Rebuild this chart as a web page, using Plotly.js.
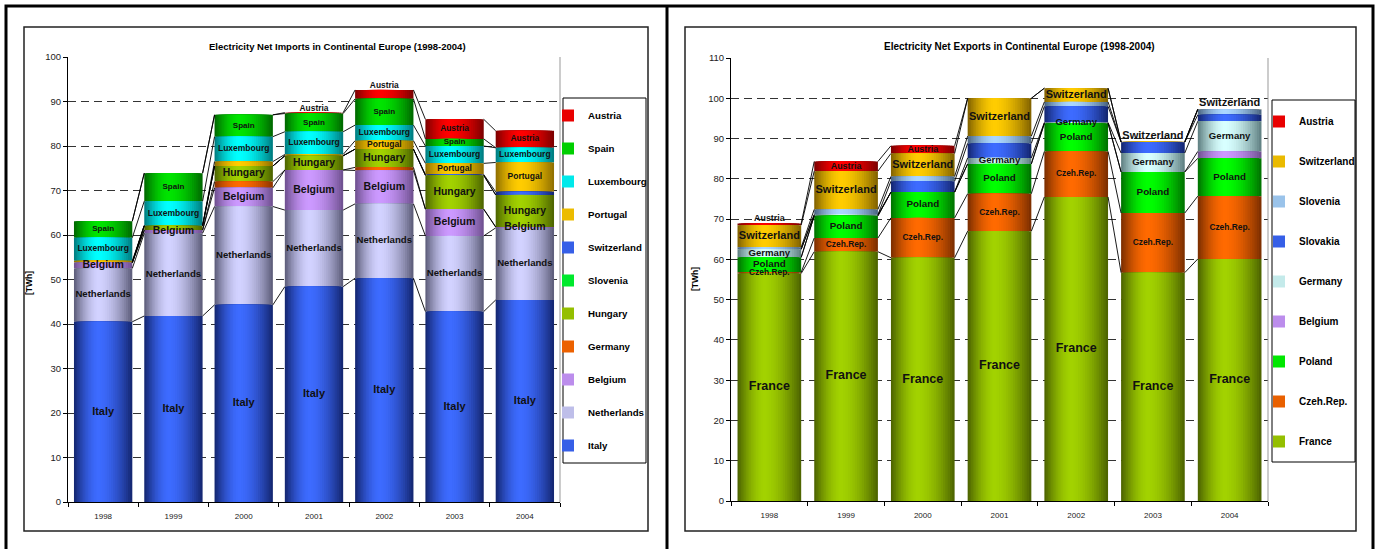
<!DOCTYPE html>
<html><head><meta charset="utf-8">
<script src="https://cdn.plot.ly/plotly-3.0.1.min.js"></script>
<style>html,body{margin:0;padding:0;background:#fff;}#chart{width:1381px;height:549px;}</style>
</head><body><div id="chart"></div>
<script>
// ---------- DATA ----------
const years = ['1998','1999','2000','2001','2002','2003','2004'];

// Net imports (TWh), stack order bottom -> top
const impItaly       = [40.5, 41.8, 44.3, 48.4, 50.3, 42.8, 45.4];
const impNetherlands = [12.0, 18.6, 22.1, 17.2, 16.7, 17.0, 16.2];
const impBelgium     = [1.3, 0.7, 4.2, 9.0, 7.5, 6.0, 0.2];
const impGermany     = [0, 0, 1.4, 0, 0.7, 0, 0];
const impHungary     = [0, 1.0, 3.5, 3.2, 4.1, 7.6, 7.2];
const impSlovenia    = [0, 0, 0, 0, 0, 0, 0];
const impSwitzerland = [0, 0, 0, 0, 0, 0.2, 0.7];
const impPortugal    = [0.4, 0, 1.0, 0.3, 1.9, 2.5, 6.6];
const impLuxembourg  = [5.2, 5.5, 5.6, 5.1, 3.5, 3.9, 3.3];
const impSpain       = [3.7, 6.3, 4.9, 4.1, 5.9, 1.6, 0];
const impAustria     = [0, 0, 0, 0.2, 2.0, 4.4, 3.8];

// Net exports (TWh), stack order bottom -> top
const expFrance      = [56.5, 61.9, 60.4, 67.0, 75.5, 56.7, 60.1];
const expCzech       = [0.3, 3.4, 9.9, 9.3, 11.3, 14.8, 15.6];
const expPoland      = [3.7, 5.5, 6.4, 7.4, 7.0, 10.2, 9.4];
const expBelgium     = [0, 0, 0, 0, 0, 0, 1.7];
const expGermany     = [2.0, 0.3, 0, 1.5, 0.2, 4.7, 7.5];
const expSlovakia    = [0, 0, 2.7, 3.6, 4.0, 2.7, 1.6];
const expSlovenia    = [0.5, 1.3, 1.2, 1.8, 1.1, 0, 1.3];
const expSwitzerland = [5.5, 9.5, 5.7, 9.4, 3.4, 0.1, 0.1];
const expAustria     = [0.4, 2.4, 1.9, 0, 0, 0, 0];

// ---------- STYLE ----------
// label codes: 0 none, 1 centred in segment, 2 above segment top
const impSeries = [
  {name:'Italy',       values:impItaly,       light:'#3d6bff', dark:'#13246c', size:11,  labels:[1,1,1,1,1,1,1]},
  {name:'Netherlands', values:impNetherlands, light:'#d2d2ff', dark:'#5a5a76', size:9.6, labels:[1,1,1,1,1,1,1]},
  {name:'Belgium',     values:impBelgium,     light:'#cc99ff', dark:'#6c4e8c', size:10.5,labels:[1,1,1,1,1,1,1]},
  {name:'Germany',     values:impGermany,     light:'#ff6a00', dark:'#8a3300', size:9,   labels:[0,0,0,0,0,0,0]},
  {name:'Hungary',     values:impHungary,     light:'#a2d200', dark:'#4a6000', size:10.4,labels:[0,0,1,1,1,1,1]},
  {name:'Slovenia',    values:impSlovenia,    light:'#00ff33', dark:'#007a10', size:9,   labels:[0,0,0,0,0,0,0]},
  {name:'Switzerland', values:impSwitzerland, light:'#3d6bff', dark:'#13246c', size:9,   labels:[0,0,0,0,0,0,0]},
  {name:'Portugal',    values:impPortugal,    light:'#ffcc00', dark:'#8c6c00', size:8.5, labels:[0,0,0,0,1,1,1]},
  {name:'Luxembourg',  values:impLuxembourg,  light:'#00ffff', dark:'#00787c', size:8.5, labels:[1,1,1,1,1,1,1]},
  {name:'Spain',       values:impSpain,       light:'#00e400', dark:'#006400', size:8,   labels:[1,1,1,1,1,1,0]},
  {name:'Austria',     values:impAustria,     light:'#ff0000', dark:'#780000', size:8.4, labels:[0,0,0,2,2,1,1]}
];
const expSeries = [
  {name:'France',      values:expFrance,      light:'#a2d200', dark:'#4a6000', size:12.5,labels:[1,1,1,1,1,1,1]},
  {name:'Czeh.Rep.',   values:expCzech,       light:'#ff6a00', dark:'#782d00', size:8.4, labels:[1,1,1,1,1,1,1]},
  {name:'Poland',      values:expPoland,      light:'#00ff00', dark:'#006e00', size:9.8, labels:[1,1,1,1,1,1,1]},
  {name:'Belgium',     values:expBelgium,     light:'#cc99ff', dark:'#6c4e8c', size:9,   labels:[0,0,0,0,0,0,0]},
  {name:'Germany',     values:expGermany,     light:'#d8ffff', dark:'#5c7c7e', size:9.6, labels:[1,0,0,1,1,1,1]},
  {name:'Slovakia',    values:expSlovakia,    light:'#3d6bff', dark:'#13246c', size:9,   labels:[0,0,0,0,0,0,0]},
  {name:'Slovenia',    values:expSlovenia,    light:'#aad6ff', dark:'#48627e', size:9,   labels:[0,0,0,0,0,0,0]},
  {name:'Switzerland', values:expSwitzerland, light:'#ffcc00', dark:'#7e5f00', size:11,  labels:[1,1,1,1,1,2,2]},
  {name:'Austria',     values:expAustria,     light:'#ff0000', dark:'#780000', size:8.9, labels:[2,1,1,0,0,0,0]}
];

const FONT = 'Liberation Sans, Arial, Helvetica, sans-serif';
const W = 0.83, P = 0.42, N = 16;
const PW = 1381, PH = 549;
const px = x => x / PW, py = y => 1 - y / PH;

function hex2rgb(h){ h = h.replace('#',''); return [0,2,4].map(i => parseInt(h.slice(i,i+2),16)); }
function mix(a,b,t){ const A = hex2rgb(a), B = hex2rgb(b); return 'rgb(' + A.map((v,i) => Math.round(v + (B[i]-v)*t)).join(',') + ')'; }

const traces = [];
function buildChart(series, xa, ya, legendId) {
  const n = years.length;
  const xs = years.map((_, i) => i);
  const bases = [], tops = [];
  let cum = new Array(n).fill(0);
  series.forEach(s => { bases.push(cum.slice()); cum = cum.map((c,i) => c + s.values[i]); tops.push(cum.slice()); });
  for (let k = series.length - 1; k >= 0; k--) {
    const s = series[k];
    for (let j = 0; j < N; j++) {
      const sj = 1 - j / N;
      const sm = sj - 0.5 / N;
      traces.push({
        type:'bar', x: xs, y: s.values, base: bases[k],
        width: W * sj, offset: -W/2 + (P - sj * P) * W,
        marker:{color: mix(s.light, s.dark, Math.pow(sm, 1.7)), line:{width:0}},
        xaxis: xa, yaxis: ya, name: s.name, legend: legendId,
        legendgroup: legendId + s.name, showlegend: j === N - 6, hoverinfo:'skip'
      });
    }
  }
  // series lines
  const lx = [], ly = [];
  tops.forEach(t => { for (let i = 0; i < n - 1; i++) { lx.push(i + W/2, i + 1 - W/2, null); ly.push(t[i], t[i+1], null); } });
  traces.push({type:'scatter', mode:'lines', x:lx, y:ly, line:{color:'#000', width:0.9}, xaxis:xa, yaxis:ya, showlegend:false, hoverinfo:'skip'});
  // labels
  const tx = [], ty = [], tt = [], ts = [], tp = [];
  series.forEach((s,k) => s.labels.forEach((c,i) => {
    if (!c) return;
    tx.push(i); tt.push(s.name); ts.push(s.size);
    if (c === 1) { ty.push(bases[k][i] + s.values[i]/2); tp.push('middle center'); }
    else { ty.push(tops[k][i]); tp.push('top center'); }
  }));
  traces.push({type:'scatter', mode:'text', x:tx, y:ty, text:tt, textposition:tp,
    textfont:{family:FONT, size:ts, color:'#111', weight:'bold'}, cliponaxis:false,
    xaxis:xa, yaxis:ya, showlegend:false, hoverinfo:'skip'});
}
buildChart(impSeries, 'x', 'y', 'legend');
buildChart(expSeries, 'x2', 'y2', 'legend2');

const bounds = years.map((_, i) => i - 0.5).concat([years.length - 0.5]);
function xAxis(d0, d1, anchor){
  return {domain:[px(d0), px(d1)], anchor, range:[-0.5, years.length - 0.5], tickmode:'array',
    tickvals: years.map((_, i) => i), ticktext: years, ticks:'', showgrid:false, zeroline:false,
    showline:true, linecolor:'#000', linewidth:1, ticklabelstandoff:6,
    tickfont:{family:FONT, size:8, color:'#222'},
    minor:{tickmode:'array', tickvals:bounds, ticks:'outside', ticklen:4, tickcolor:'#000', showgrid:false},
    fixedrange:true};
}
function yAxis(top, bottom, max, anchor){
  return {domain:[py(bottom), py(top)], anchor, range:[0, max], tick0:0, dtick:10,
    showgrid:true, gridcolor:'#333', griddash:'8px,5px', gridwidth:1, zeroline:false,
    showline:true, linecolor:'#000', linewidth:1, ticks:'outside', ticklen:4, tickcolor:'#000',
    tickfont:{family:FONT, size:9.5, color:'#222'}, fixedrange:true};
}
function rect(x0,y0,x1,y1,color,width){
  return {type:'rect', xref:'paper', yref:'paper', x0:px(x0), x1:px(x1), y0:py(y0), y1:py(y1),
    line:{color, width}, fillcolor:'rgba(0,0,0,0)', layer:'above'};
}
function vline(x,y0,y1,color,width){
  return {type:'line', xref:'paper', yref:'paper', x0:px(x), x1:px(x), y0:py(y0), y1:py(y1), line:{color, width}, layer:'above'};
}
function ann(x,y,text,size,angle){
  return {xref:'paper', yref:'paper', x:px(x), y:py(y), text, showarrow:false, textangle:angle||0,
    xanchor:'center', yanchor:'middle', font:{family:FONT, size, color:'#000'}};
}
const legendBase = {xanchor:'left', yanchor:'top', bgcolor:'rgba(0,0,0,0)', borderwidth:0,
  itemclick:false, itemdoubleclick:false};

const layout = {
  width:PW, height:PH, margin:{l:0, r:0, t:0, b:0}, autosize:false,
  paper_bgcolor:'#fff', plot_bgcolor:'rgba(0,0,0,0)', barmode:'overlay', showlegend:true,
  font:{family:FONT},
  xaxis: xAxis(68, 560, 'y'), yaxis: yAxis(57, 502, 100, 'x'),
  xaxis2: xAxis(731, 1268, 'y2'), yaxis2: yAxis(58, 501, 110, 'x2'),
  legend: Object.assign({}, legendBase, {x:px(548), y:py(101), tracegroupgap:14,
    font:{family:FONT, size:9.7, color:'#000', weight:'bold'}}),
  legend2: Object.assign({}, legendBase, {x:px(1259), y:py(107), tracegroupgap:21,
    font:{family:FONT, size:10, color:'#000', weight:'bold'}}),
  shapes: [
    rect(6, 6, 1373, 570, '#000', 3),
    vline(667, 6, 570, '#000', 3),
    rect(24, 27, 648, 531, '#222', 1.5),
    rect(685, 27, 1356, 531, '#222', 1.5),
    rect(563, 98, 646, 463, '#000', 1),
    rect(1272, 100, 1355, 462, '#000', 1),
    vline(560, 57, 502, '#999', 1),
    vline(1268, 58, 501, '#999', 1)
  ],
  annotations: [
    ann(337.5, 47, '<b>Electricity Net Imports in Continental Europe (1998-2004)</b>', 9.5),
    ann(1019, 47, '<b>Electricity Net Exports in Continental Europe (1998-2004)</b>', 10),
    ann(29, 283, '<b>[TWh]</b>', 8.5, -90),
    ann(695, 279, '<b>[TWh]</b>', 8.5, -90)
  ]
};
Plotly.newPlot('chart', traces, layout, {staticPlot:true, displayModeBar:false});
</script></body></html>
